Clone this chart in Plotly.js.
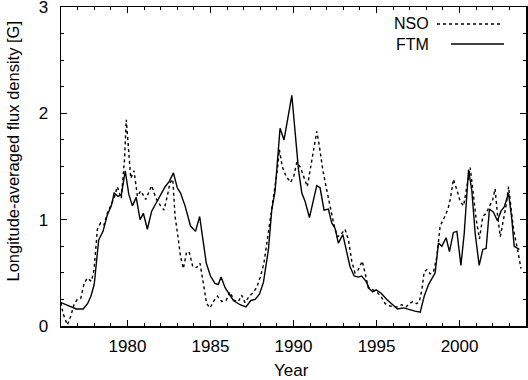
<!DOCTYPE html>
<html>
<head>
<meta charset="utf-8">
<script src="https://cdn.plot.ly/plotly-3.0.1.min.js"></script>
<style>
  html, body { margin: 0; padding: 0; background: #fff; }
  #chart { width: 528px; height: 380px; }
</style>
</head>
<body>
<div id="chart"></div>
<script>
// NSO (dotted) series
const nsoYears = [1976.0, 1976.12, 1976.38, 1976.58, 1976.78, 1976.98, 1977.19, 1977.39, 1977.58, 1977.83,
  1977.99, 1978.19, 1978.39, 1978.59, 1978.79, 1978.99, 1979.19, 1979.39, 1979.63, 1979.83,
  1979.93, 1980.07, 1980.2, 1980.4, 1980.6, 1980.8, 1981.1, 1981.46, 1981.72, 1982.0,
  1982.2, 1982.4, 1982.57, 1982.73, 1982.87, 1983.07, 1983.2, 1983.37, 1983.57, 1983.73,
  1983.93, 1984.17, 1984.37, 1984.57, 1984.77, 1984.98, 1985.17, 1985.42, 1985.68, 1985.94,
  1986.18, 1986.42, 1986.68, 1986.88, 1987.08, 1987.34, 1987.54, 1987.78, 1988.02, 1988.22,
  1988.39, 1988.59, 1988.79, 1989.03, 1989.15, 1989.32, 1989.55, 1989.82, 1990.02, 1990.2,
  1990.42, 1990.62, 1990.83, 1991.04, 1991.24, 1991.4, 1991.56, 1991.76, 1992.0, 1992.2,
  1992.45, 1992.65, 1992.85, 1993.1, 1993.31, 1993.51, 1993.7, 1993.9, 1994.14, 1994.35,
  1994.5, 1994.78, 1995.02, 1995.26, 1995.52, 1995.78, 1996.02, 1996.26, 1996.52, 1996.78,
  1996.98, 1997.18, 1997.42, 1997.58, 1997.73, 1997.87, 1998.03, 1998.23, 1998.43, 1998.63,
  1998.83, 1999.08, 1999.3, 1999.45, 1999.63, 1999.84, 2000.04, 2000.24, 2000.44, 2000.64,
  2000.8, 2001.0, 2001.2, 2001.4, 2001.6, 2001.8, 2002.0, 2002.14, 2002.28, 2002.45,
  2002.61, 2002.81, 2002.95, 2003.09, 2003.25, 2003.49, 2003.7];
const nsoFlux = [0.22, 0.12, 0.01, 0.09, 0.20, 0.25, 0.26, 0.40, 0.45, 0.42,
  0.53, 0.91, 0.97, 0.95, 1.06, 1.13, 1.20, 1.31, 1.20, 1.58,
  1.94, 1.66, 1.39, 1.46, 1.22, 1.27, 1.19, 1.32, 1.20, 1.13,
  1.09, 1.22, 1.35, 1.38, 1.03, 0.81, 0.65, 0.54, 0.70, 0.69,
  0.56, 0.55, 0.59, 0.40, 0.21, 0.17, 0.23, 0.28, 0.23, 0.24,
  0.32, 0.24, 0.23, 0.29, 0.22, 0.28, 0.31, 0.36, 0.47, 0.59,
  0.78, 0.97, 1.22, 1.47, 1.66, 1.50, 1.41, 1.35, 1.41, 1.54,
  1.49, 1.41, 1.31, 1.50, 1.69, 1.83, 1.69, 1.47, 1.28, 1.13,
  0.94, 0.84, 0.86, 0.91, 0.81, 0.61, 0.50, 0.53, 0.61, 0.47,
  0.36, 0.34, 0.32, 0.28, 0.21, 0.19, 0.18, 0.18, 0.20, 0.18,
  0.21, 0.23, 0.21, 0.23, 0.34, 0.51, 0.53, 0.49, 0.51, 0.65,
  0.94, 1.02, 1.10, 1.20, 1.38, 1.28, 1.17, 1.13, 1.31, 1.49,
  1.28, 1.00, 0.82, 1.03, 1.06, 1.13, 1.19, 1.29, 1.05, 0.84,
  0.98, 1.14, 1.31, 1.13, 0.91, 0.72, 0.54];

// FTM (solid) series
const ftmYears = [1976.0, 1976.5, 1976.92, 1977.33, 1977.6, 1977.8, 1978.0, 1978.27, 1978.53, 1978.8,
  1979.03, 1979.2, 1979.43, 1979.63, 1979.87, 1980.08, 1980.3, 1980.53, 1980.76, 1980.96,
  1981.2, 1981.46, 1981.77, 1982.0, 1982.27, 1982.52, 1982.77, 1983.0, 1983.2, 1983.47,
  1983.8, 1984.1, 1984.35, 1984.52, 1984.75, 1985.0, 1985.27, 1985.47, 1985.64, 1985.88,
  1986.14, 1986.38, 1986.78, 1987.14, 1987.43, 1987.69, 1987.95, 1988.19, 1988.49, 1988.69,
  1988.89, 1989.03, 1989.19, 1989.43, 1989.63, 1989.9, 1990.1, 1990.3, 1990.5, 1990.7,
  1990.96, 1991.2, 1991.4, 1991.6, 1991.84, 1992.1, 1992.3, 1992.5, 1992.7, 1992.97,
  1993.2, 1993.4, 1993.65, 1993.9, 1994.1, 1994.37, 1994.57, 1994.77, 1994.98, 1995.26,
  1995.62, 1995.98, 1996.26, 1996.62, 1997.02, 1997.32, 1997.63, 1997.87, 1998.13, 1998.39,
  1998.53, 1998.73, 1998.93, 1999.19, 1999.39, 1999.63, 1999.84, 2000.08, 2000.28, 2000.54,
  2000.74, 2000.94, 2001.18, 2001.4, 2001.6, 2001.8, 2002.04, 2002.28, 2002.49, 2002.69,
  2002.95, 2003.15, 2003.29, 2003.6];
const ftmFlux = [0.22, 0.19, 0.16, 0.16, 0.21, 0.28, 0.39, 0.81, 0.89, 1.05,
  1.13, 1.25, 1.22, 1.23, 1.46, 1.24, 1.13, 1.21, 1.00, 1.06,
  0.91, 1.08, 1.17, 1.24, 1.31, 1.36, 1.44, 1.30, 1.25, 1.13,
  0.94, 0.89, 1.03, 0.84, 0.59, 0.47, 0.40, 0.39, 0.46, 0.36,
  0.30, 0.24, 0.20, 0.18, 0.24, 0.25, 0.30, 0.41, 0.72, 1.09,
  1.27, 1.53, 1.86, 1.75, 1.94, 2.17, 1.82, 1.47, 1.25, 1.17,
  1.02, 1.19, 1.32, 1.30, 1.09, 1.10, 0.97, 0.92, 0.78, 0.86,
  0.69, 0.56, 0.47, 0.46, 0.47, 0.42, 0.35, 0.32, 0.34, 0.31,
  0.25, 0.20, 0.16, 0.17, 0.15, 0.14, 0.13, 0.28, 0.39, 0.47,
  0.50, 0.78, 0.75, 0.83, 0.70, 0.88, 0.89, 0.57, 0.87, 1.47,
  1.27, 0.87, 0.57, 0.72, 0.73, 1.10, 1.07, 0.99, 1.08, 1.12,
  1.25, 1.00, 0.75, 0.72];

const seriesNames = ['NSO', 'FTM'];

const FONT = 'Liberation Sans, Arial, Helvetica, sans-serif';

const traces = [
  {
    x: nsoYears, y: nsoFlux, name: seriesNames[0],
    type: 'scatter', mode: 'lines',
    line: { color: '#000', width: 1.4, dash: '3px,3px' }
  },
  {
    x: ftmYears, y: ftmFlux, name: seriesNames[1],
    type: 'scatter', mode: 'lines',
    line: { color: '#000', width: 1.4 }
  }
];

// plot area in pixels: x 61..526, y 7..326
const px = (p) => (p - 61) / 465;
const py = (p) => (326 - p) / 319;

const axisCommon = {
  showline: true, linecolor: '#000', linewidth: 1.5,
  mirror: 'allticks', ticks: 'inside', ticklen: 6, tickwidth: 1.2, tickcolor: '#000',
  showgrid: false, zeroline: false, automargin: false,
  ticklabeloverflow: 'allow',
  tickfont: { family: FONT, size: 17, color: '#000' },
  fixedrange: true
};

const layout = {
  width: 528, height: 380,
  margin: { l: 61, r: 2, t: 7, b: 54, autoexpand: false },
  paper_bgcolor: '#fff', plot_bgcolor: '#fff',
  showlegend: false,
  font: { family: FONT, color: '#000' },
  xaxis: Object.assign({}, axisCommon, {
    range: [1976, 2004], tick0: 1980, dtick: 5, ticklabelstandoff: 4,
    minor: { dtick: 1, ticks: 'inside', ticklen: 3, tickcolor: '#000', tickwidth: 1 }
  }),
  yaxis: Object.assign({}, axisCommon, {
    range: [0, 3], dtick: 1, ticklabelstandoff: 8,
    minor: { dtick: 0.25, ticks: 'inside', ticklen: 3, tickcolor: '#000', tickwidth: 1 }
  }),
  annotations: [
    { text: 'Year', xref: 'paper', yref: 'paper', x: px(291.5), y: py(370),
      xanchor: 'center', yanchor: 'middle', showarrow: false,
      font: { family: FONT, size: 17 } },
    { text: 'Longitude-averaged flux density [G]', xref: 'paper', yref: 'paper',
      x: px(12.5), y: py(151), textangle: -90,
      xanchor: 'center', yanchor: 'middle', showarrow: false,
      font: { family: FONT, size: 16.5 } },
    { text: seriesNames[0], xref: 'paper', yref: 'paper', x: px(431), y: py(24),
      xanchor: 'right', yanchor: 'middle', showarrow: false,
      font: { family: 'Liberation Sans Narrow, ' + FONT, size: 16 } },
    { text: seriesNames[1], xref: 'paper', yref: 'paper', x: px(431), y: py(44),
      xanchor: 'right', yanchor: 'middle', showarrow: false,
      font: { family: 'Liberation Sans Narrow, ' + FONT, size: 16 } }
  ],
  shapes: [
    { type: 'line', xref: 'paper', yref: 'paper', x0: px(437), x1: px(501), y0: py(24), y1: py(24),
      line: { color: '#000', width: 1.4, dash: '3px,3px' } },
    { type: 'line', xref: 'paper', yref: 'paper', x0: px(451), x1: px(504), y0: py(44), y1: py(44),
      line: { color: '#000', width: 1.4 } }
  ]
};

Plotly.newPlot('chart', traces, layout, { staticPlot: true, displayModeBar: false });
</script>
</body>
</html>
